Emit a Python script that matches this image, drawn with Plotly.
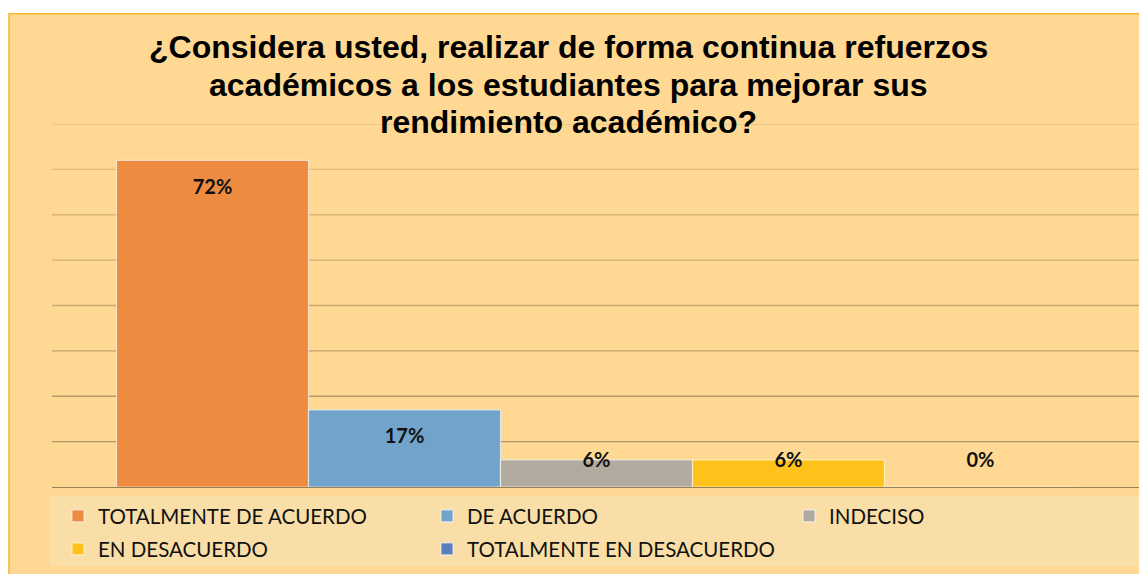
import plotly.graph_objects as go

# ---- data ----
categories = ["TOTALMENTE DE ACUERDO", "DE ACUERDO", "INDECISO",
              "EN DESACUERDO", "TOTALMENTE EN DESACUERDO"]
values = [0.72, 0.17, 0.06, 0.06, 0.0]
labels = ["72%", "17%", "6%", "6%", "0%"]
colors = ["#ED8B41", "#71A3CB", "#B1AA9E", "#FFC21A", "#5B7EBF"]
grid_values = [0.1, 0.2, 0.3, 0.4, 0.5, 0.6, 0.7, 0.8]
title_lines = ["¿Considera usted, realizar de forma continua refuerzos",
               "académicos a los estudiantes para mejorar sus",
               "rendimiento académico?"]

OFF = 8  # default page body margin
W, H = 1147 - OFF, 574 - OFF
# plot area in window pixels: x 52..1141, y 124..488
L = 52 - OFF
R = W - (1141 - OFF)
T = 124 - OFF
B = H - (488 - OFF)
PW = W - L - R
PH = H - T - B


def px_x(wx):
    return (wx - OFF - L) / PW


def px_y(wy):
    return (H - B - (wy - OFF)) / PH


# legend entry slots (window px of symbol centre): 3 columns x 2 rows
legend_slots = [(80, 516), (449, 516), (811, 516), (80, 549), (449, 549)]

fig = go.Figure()

legend_layouts = {}
for i, (cat, v, c) in enumerate(zip(categories, values, colors)):
    lname = "legend" if i == 0 else f"legend{i + 1}"
    fig.add_trace(go.Bar(
        x=[i], y=[v], name=cat, width=1,
        marker=dict(color=c, line=dict(color="rgba(255,255,255,0.6)", width=1.2)),
        hoverinfo="name+y",
        legend=lname,
    ))
    sx, sy = legend_slots[i]
    legend_layouts[lname] = dict(
        x=px_x(sx - 22), y=px_y(sy), xanchor="left", yanchor="middle",
        orientation="h", bgcolor="rgba(0,0,0,0)",
        font=dict(family="Lato", size=20.5, color="#111111"),
    )

label_y = [max(v - 0.063, 0.055) for v in values]
fig.add_trace(go.Scatter(
    x=list(range(len(values))), y=label_y, text=labels, mode="text",
    textfont=dict(family="Lato", size=20, color="#111111"),
    textposition="middle center", showlegend=False, hoverinfo="skip",
    texttemplate="<b>%{text}</b>",
))

shapes = [
    dict(type="rect", xref="paper", yref="paper",
         x0=px_x(9), x1=px_x(1160), y0=px_y(590), y1=px_y(13.5),
         fillcolor="#FFD993", line=dict(color="#F7B730", width=1.5), layer="below"),
    dict(type="rect", xref="paper", yref="paper",
         x0=px_x(50), x1=px_x(1142), y0=px_y(567), y1=px_y(497),
         fillcolor="#F9DFA7", line=dict(width=0), layer="below"),
]
n = len(grid_values)
for k, gv in enumerate(grid_values):
    a = 0.62 - 0.42 * k / (n - 1)
    shapes.append(dict(type="line", xref="paper", yref="y", x0=0, x1=1, y0=gv, y1=gv,
                       line=dict(color=f"rgba(130,108,72,{a:.2f})", width=1.3),
                       layer="below"))

annotations = []
for line, wy in zip(title_lines, [47, 85, 122]):
    annotations.append(dict(
        text=line, xref="paper", yref="paper", x=px_x(568), y=px_y(wy),
        xanchor="center", yanchor="middle", showarrow=False,
        font=dict(family="Liberation Sans", size=32, color="#000000", weight="bold"),
    ))

fig.update_layout(
    width=W, height=H,
    margin=dict(l=L, r=R, t=T, b=B),
    paper_bgcolor="white",
    plot_bgcolor="rgba(0,0,0,0)",
    shapes=shapes,
    annotations=annotations,
    barmode="overlay",
    xaxis=dict(range=[-0.836, 4.836], showticklabels=False, showgrid=False,
               zeroline=False, showline=False, ticks=""),
    yaxis=dict(range=[0, 0.8], showticklabels=False, showgrid=False,
               zeroline=True, zerolinecolor="rgba(135,112,75,0.85)", zerolinewidth=1.3,
               showline=False, ticks=""),
    showlegend=True,
    **legend_layouts,
)

fig.write_html("out.html")
